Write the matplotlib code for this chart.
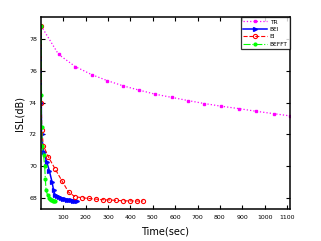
import matplotlib
matplotlib.use('Agg')
import matplotlib.pyplot as plt

# values
tr_time = [0, 78, 153, 227, 297, 368, 440, 510, 587, 656, 730, 806, 884, 962, 1041, 1113]
tr_isl = [78.85, 77.05, 76.28, 75.77, 75.39, 75.06, 74.79, 74.54, 74.33, 74.14,
          73.95, 73.78, 73.63, 73.46, 73.31, 73.17]

bei_time = [0, 1, 2, 11, 26, 37, 49, 56, 63, 71, 80, 88, 97, 106, 115, 124, 133, 142, 151, 160]
bei_isl = [78.85, 74.0, 72.0, 70.9, 70.23, 69.7, 69.0, 68.48, 68.17, 68.1, 68.03, 67.98,
           67.94, 67.91, 67.88, 67.86, 67.84, 67.83, 67.82, 67.82]

ei_time = [0, 1, 3, 10, 32, 62, 93, 123, 152, 183, 213, 245, 276, 305, 337, 367, 398, 428, 457]
ei_isl = [78.85, 74.0, 72.3, 71.3, 70.6, 69.84, 69.08, 68.36, 68.07, 68.01, 67.96, 67.92,
          67.88, 67.87, 67.84, 67.81, 67.81, 67.80, 67.80]

befft_time = [0, 1, 2, 5, 11, 16, 19, 22, 29, 34, 39, 44, 49, 54, 59, 64]
befft_isl = [78.85, 74.5, 72.5, 71.3, 70.7, 70.0, 69.2, 68.5, 68.17, 68.0, 67.92, 67.87,
             67.84, 67.82, 67.81, 67.8]

x_ticks = [100, 200, 300, 400, 500, 600, 700, 800, 900, 1000, 1100]
y_ticks = [68, 70, 72, 74, 76, 78]

fig = plt.figure(figsize=(3.21, 2.41), dpi=100)
ax = fig.add_axes([0.128, 0.133, 0.775, 0.796])

ax.plot(tr_time, tr_isl, ':', color=(1, 0, 1), lw=0.9, marker='s', ms=2, label='TR')
ax.plot(bei_time, bei_isl, '-', color=(0, 0, 1), lw=1.1, marker='>', ms=2.8, label='BEI')
ax.plot(ei_time, ei_isl, '--', color=(1, 0, 0), lw=0.8, marker='o', ms=3,
        mfc='none', mew=0.8, label='EI')
ax.plot(befft_time, befft_isl, '-.', color=(0, 1, 0), lw=0.8, marker='.', ms=4, label='BEFFT')

ax.set_xlim(0, 1113)
ax.set_ylim(67.3, 79.4)
ax.set_xticks(x_ticks)
ax.set_yticks(y_ticks)
ax.tick_params(direction='in', top=True, right=True, length=3, width=0.8,
               labelsize=4.5)
ax.tick_params(axis='x', pad=4)
ax.tick_params(axis='y', pad=3)
for s in ax.spines.values():
    s.set_linewidth(1.1)

ax.set_xlabel('Time(sec)', fontsize=7, labelpad=5)
ax.set_ylabel('ISL(dB)', fontsize=7, labelpad=3)

leg = ax.legend(loc='upper right', fontsize=4.2, frameon=True, fancybox=False,
                borderaxespad=0, handlelength=4, handletextpad=0.5,
                borderpad=0.4, labelspacing=0.4)
leg.get_frame().set_edgecolor('black')
leg.get_frame().set_linewidth(0.9)

fig.savefig('out.png', dpi=100)
